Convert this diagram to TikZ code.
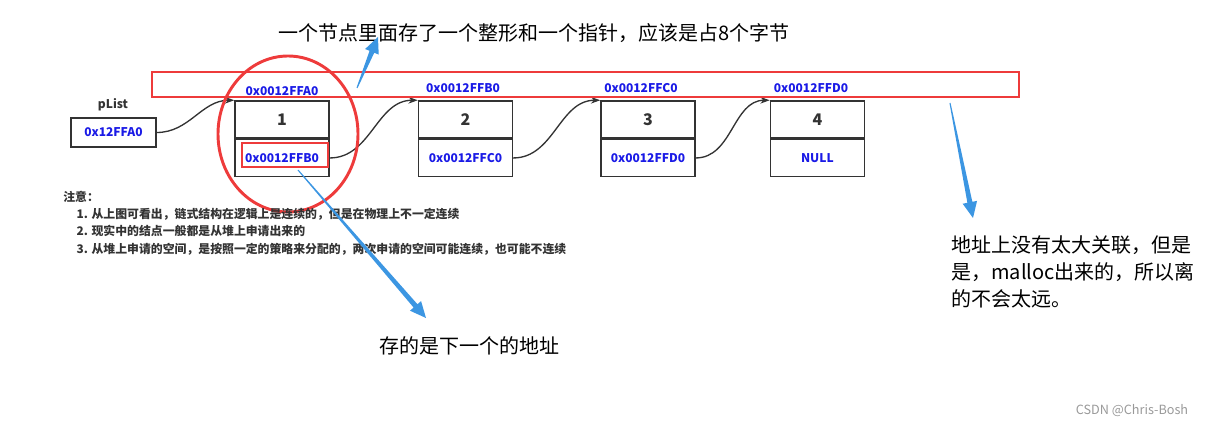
\documentclass[tikz,border=0pt]{standalone}
\usepackage{fontspec}
\setmainfont{Noto Sans CJK SC}
\usepackage{tikz}
\usetikzlibrary{positioning,shapes.geometric,arrows.meta,calc}

\definecolor{ink}{HTML}{333333}
\definecolor{addrblue}{HTML}{1A1AE6}
\definecolor{hlred}{HTML}{EE3B3B}
\definecolor{noteblue}{HTML}{3C96E2}

% tapered blue pointer from #1 to tip #2
\newcommand{\tipwedge}[2]{%
  \coordinate (h) at ($(#2)!12pt!(#1)$);
  \fill[noteblue] ($(#1)!0.4pt!90:(#2)$) -- ($(h)!1.9pt!90:(#2)$)
    -- ($(h)!5.5pt!90:(#2)$) -- (#2) -- ($(h)!5.5pt!-90:(#2)$)
    -- ($(h)!1.9pt!-90:(#2)$) -- ($(#1)!0.4pt!-90:(#2)$) -- cycle;
}

\begin{document}
\begin{tikzpicture}[x=0.75pt,y=-0.75pt,auto,
    cell/.style={draw=ink,line width=1.1pt,minimum width=70.5pt,minimum height=27.75pt,
      inner sep=0pt,font=\bfseries\fontsize{12}{14}\selectfont,text=ink},
    ptr/.style={cell,font=\bfseries\fontsize{9}{11}\selectfont,text=addrblue},
    addr/.style={font=\bfseries\fontsize{9}{11}\selectfont,text=addrblue,inner sep=0pt},
    link/.style={draw=ink,line width=1pt,-{Stealth[length=7pt,width=5pt]}},
    hl/.style={draw=hlred,line width=2.2pt},
    note/.style={font=\fontsize{15}{20.6}\selectfont,text=black,inner sep=0pt}]
  \useasboundingbox (0,0) rectangle (1214,427);

  % list head
  \node[font=\bfseries\fontsize{9}{11}\selectfont,text=ink] (lbl) at (113,105) {pList};
  \node[ptr,minimum width=63.75pt,minimum height=21.75pt] (pl) at (113.5,132.5) {0x12FFA0};

  % nodes
  \node[cell] (n1) at (282,119.5) {1};
  \node[ptr] (p1) [below=0pt of n1] {0x0012FFB0};
  \node[cell] (n2) [right=66pt of n1] {2};
  \node[ptr] (p2) [below=0pt of n2] {0x0012FFC0};
  \node[cell] (n3) [right=65.25pt of n2] {3};
  \node[ptr] (p3) [below=0pt of n3] {0x0012FFD0};
  \node[cell] (n4) [right=55.5pt of n3] {4};
  \node[ptr] (p4) [below=0pt of n4] {NULL};

  % addresses
  \node[addr] (a1) at (282,91) {0x0012FFA0};
  \node[addr] (a2) at (463,88) {0x0012FFB0};
  \node[addr] (a3) at (641,88) {0x0012FFC0};
  \node[addr] (a4) at (811,88) {0x0012FFD0};

  \path
  (pl.east) edge [link,out=0,in=180] (n1.north west)
  (p1.east) edge [link,out=0,in=180] (n2.north west)
  (p2.east) edge [link,out=0,in=180] (n3.north west)
  (p3.east) edge [link,out=0,in=180] (n4.north west)
  ;

  % highlights
  \node[hl,minimum width=650.25pt,minimum height=18.75pt,inner sep=0pt] (band) at (585.5,84.5) {};
  \node[hl,ellipse,minimum width=105pt,minimum height=117pt,inner sep=0pt] (ring) at (288,134) {};
  \node[hl,minimum width=64.5pt,minimum height=18pt,inner sep=0pt] (box) at (285,155) {};

  % remarks
  \node[note] (top) at (534,33) {一个节点里面存了一个整形和一个指针，应该是占8个字节};
  \node[note] (next) at (469,346) {存的是下一个的地址};
  \node[note,anchor=north west,align=left] (far) at (951,235)
    {地址上没有太大关联，但是\\是，malloc出来的，所以离\\的不会太远。};
  \node[anchor=north west,align=left,inner sep=0pt,text=ink,
    font=\bfseries\fontsize{8.9}{12.9}\selectfont] (memo) at (63,191)
    {注意：\\
     \hspace*{10pt}1. 从上图可看出，链式结构在逻辑上是连续的，但是在物理上不一定连续\\
     \hspace*{10pt}2. 现实中的结点一般都是从堆上申请出来的\\
     \hspace*{10pt}3. 从堆上申请的空间，是按照一定的策略来分配的，两次申请的空间可能连续，也可能不连续};

  \coordinate (s1) at (357,88);
  \coordinate (e1) at (378,37);
  \coordinate (s2) at (298,170);
  \coordinate (e2) at (426,318);
  \coordinate (s3) at (950,103);
  \coordinate (e3) at (973,218);
  \tipwedge{s1}{e1}
  \tipwedge{s2}{e2}
  \tipwedge{s3}{e3}

  \node[text=black!40,font=\fontsize{9.5}{11}\selectfont] (mark) at (1132,411) {CSDN @Chris-Bosh};
\end{tikzpicture}
\end{document}
